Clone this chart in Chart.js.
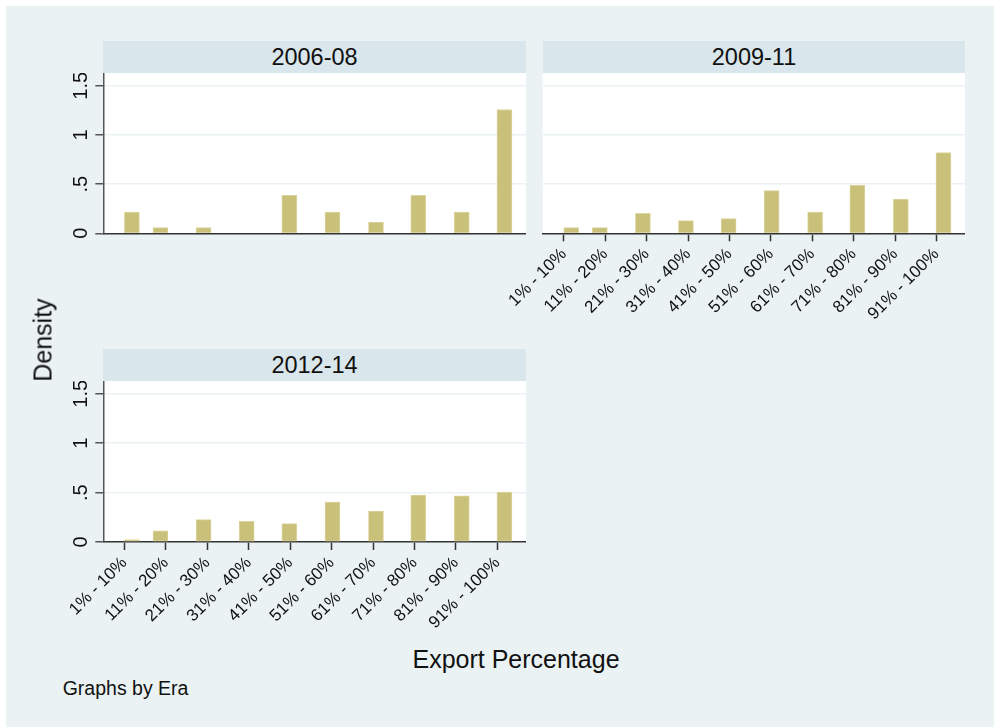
<!DOCTYPE html>
<html>
<head>
<meta charset="utf-8">
<script src="https://cdn.jsdelivr.net/npm/chart.js@4.4.0/dist/chart.umd.min.js"></script>
<style>
  body { margin: 0; background: #fff; }
  #page { position: relative; width: 994px; height: 727px; overflow: hidden; font-family: "Liberation Sans", Arial, sans-serif; color: #111; }
  #bg { position: absolute; left: 6px; top: 6px; right: 0; bottom: 0; background: #EAF2F3; }
  canvas { position: absolute; }
  .strip { position: absolute; height: 32px; background: #D9E6EB; text-align: center; font-size: 23.5px; line-height: 32px; }
  .lbl { position: absolute; white-space: nowrap; line-height: 1; }
</style>
</head>
<body>
<div id="page">
  <div id="bg"></div>
  <div class="strip" id="s1" style="left:103px;top:41px;width:423px"></div>
  <div class="strip" id="s2" style="left:543px;top:41px;width:422px"></div>
  <div class="strip" id="s3" style="left:103px;top:349px;width:423px"></div>
  <canvas id="c1" width="476" height="170" style="left:50px;top:73px"></canvas>
  <canvas id="c2" width="465" height="260" style="left:500px;top:73px"></canvas>
  <canvas id="c3" width="476" height="260" style="left:50px;top:381px"></canvas>
  <div class="lbl" style="left:43px;top:340px;font-size:25px;transform:translate(-50%,-50%) rotate(-90deg)">Density</div>
  <div class="lbl" style="left:516px;top:647px;font-size:25px;transform:translateX(-50%)">Export Percentage</div>
  <div class="lbl" style="left:62.7px;top:679px;font-size:19.5px">Graphs by Era</div>
</div>
<script>
// Data
const eras = ['2006-08', '2009-11', '2012-14'];
const tickVals = [1, 2, 3, 4, 5, 6, 7, 8, 9, 10];
const xLabels = ['1% - 10%', '11% - 20%', '21% - 30%', '31% - 40%', '41% - 50%',
  '51% - 60%', '61% - 70%', '71% - 80%', '81% - 90%', '91% - 100%'];
const binMid = [1.18, 1.87, 2.91, 3.95, 4.98, 6.02, 7.07, 8.09, 9.14, 10.17];
const density0608 = [0.217, 0.057, 0.057, 0, 0.387, 0.217, 0.112, 0.387, 0.217, 1.259];
const density0911 = [0.057, 0.057, 0.204, 0.129, 0.149, 0.434, 0.217, 0.489, 0.349, 0.821];
const density1214 = [0.024, 0.112, 0.227, 0.210, 0.186, 0.403, 0.312, 0.474, 0.467, 0.505];
const yTicks = [0, 0.5, 1, 1.5];
const yLabels = ['0', '.5', '1', '1.5'];

const FONT = '"Liberation Sans", Arial, sans-serif';

// white plot region
const plotBg = {
  id: 'plotBg',
  beforeDraw(chart) {
    const a = chart.chartArea;
    chart.ctx.save();
    chart.ctx.fillStyle = '#fff';
    chart.ctx.fillRect(a.left, a.top, a.right - a.left, a.bottom - a.top);
    chart.ctx.restore();
  }
};

// vertical y tick labels (Stata style)
const yLabelPlugin = {
  id: 'yLabels',
  afterDraw(chart, args, opts) {
    if (!opts.show) return;
    const s = chart.scales.y;
    const ctx = chart.ctx;
    ctx.save();
    ctx.font = '20px ' + FONT;
    ctx.fillStyle = '#111';
    ctx.textAlign = 'center';
    ctx.textBaseline = 'alphabetic';
    s.ticks.forEach((t, i) => {
      ctx.save();
      ctx.translate(s.right - 16, s.getPixelForValue(t.value));
      ctx.rotate(-Math.PI / 2);
      ctx.fillText(yLabels[i], 0, 0);
      ctx.restore();
    });
    ctx.restore();
  }
};

function makePanel(id, values, yw, xh, showY, showX) {
  new Chart(document.getElementById(id), {
    type: 'bar',
    data: {
      datasets: [{
        data: binMid.map((x, i) => ({ x: x, y: values[i] })),
        backgroundColor: '#C9C07A',
        borderColor: '#DCD49E',
        borderWidth: 1,
        borderSkipped: false,
        barThickness: 15
      }]
    },
    options: {
      responsive: false,
      animation: false,
      layout: { padding: 0 },
      plugins: {
        legend: { display: false },
        tooltip: { enabled: false },
        yLabels: { show: showY }
      },
      scales: {
        x: {
          type: 'linear',
          min: 0.49,
          max: 10.69,
          offset: false,
          afterBuildTicks: s => { s.ticks = tickVals.map(v => ({ value: v })); },
          afterFit: s => { s.height = xh; s.paddingLeft = 0; s.paddingRight = 0; },
          grid: { offset: false, drawOnChartArea: false, drawTicks: showX, tickLength: 8, tickColor: '#333', tickWidth: 1.5 },
          border: { display: true, color: '#333', width: 1.5 },
          ticks: {
            display: showX,
            autoSkip: false,
            minRotation: 45,
            maxRotation: 45,
            padding: 3,
            color: '#111',
            font: { size: 17, family: FONT },
            callback: (v, i) => xLabels[i]
          }
        },
        y: {
          min: 0,
          max: 1.63,
          afterBuildTicks: s => { s.ticks = yTicks.map(v => ({ value: v })); },
          afterFit: s => { s.width = yw; },
          grid: { color: '#EAF2F3', lineWidth: 1.5, drawTicks: showY, tickLength: 8, tickColor: '#555', tickWidth: 1.5 },
          border: { display: showY, color: '#555', width: 1.5 },
          ticks: { display: false }
        }
      }
    },
    plugins: [plotBg, yLabelPlugin]
  });
}

document.getElementById('s1').textContent = eras[0];
document.getElementById('s2').textContent = eras[1];
document.getElementById('s3').textContent = eras[2];

makePanel('c1', density0608, 53.3, 9.7, true, false);
makePanel('c2', density0911, 42.7, 99.7, false, true);
makePanel('c3', density1214, 53.3, 99, true, true);
</script>
</body>
</html>
